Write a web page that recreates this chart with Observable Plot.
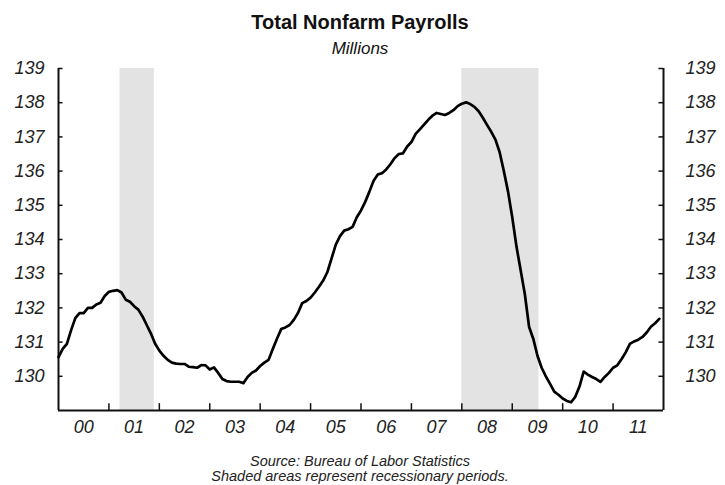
<!DOCTYPE html>
<html>
<head>
<meta charset="utf-8">
<script src="https://cdn.jsdelivr.net/npm/d3@7"></script>
<script src="https://cdn.jsdelivr.net/npm/@observablehq/plot@0.6"></script>
<style>
  html, body { margin: 0; padding: 0; background: #fff; }
  #wrap { width: 725px; font-family: "Liberation Sans", Arial, sans-serif; color: #111; }
  .hdr { position: relative; height: 58px; }
  .ftr { position: relative; height: 42px; }
  .t { position: absolute; left: 0; width: 720px; text-align: center; white-space: nowrap; }
  #title { top: 12px; font-size: 20px; line-height: 20px; font-weight: bold; }
  #sub { top: 40px; font-size: 17px; line-height: 17px; font-style: italic; }
  #src1 { top: 11px; font-size: 14.5px; line-height: 14.5px; font-style: italic; color: #222; }
  #src2 { top: 26px; font-size: 14.5px; line-height: 14.5px; font-style: italic; color: #222; }
  svg text { font-style: italic; }
  figure, svg { display: block; margin: 0; }
</style>
</head>
<body>
<div id="wrap">
  <div class="hdr">
    <div class="t" id="title">Total Nonfarm Payrolls</div>
    <div class="t" id="sub">Millions</div>
  </div>
  <div id="chart"></div>
  <div class="ftr">
    <div class="t" id="src1">Source: Bureau of Labor Statistics</div>
    <div class="t" id="src2">Shaded areas represent recessionary periods.</div>
  </div>
</div>
<script>
// Monthly total nonfarm payrolls (millions), Jan 2000 – Dec 2011
const startYear = 2000;
const payrolls = [
  // 2000
  130.56, 130.80, 130.95, 131.35, 131.70, 131.85, 131.85, 132.00, 132.00, 132.10, 132.15, 132.35,
  // 2001
  132.47, 132.50, 132.52, 132.45, 132.24, 132.18, 132.05, 131.95, 131.75, 131.50, 131.25, 130.95,
  // 2002
  130.75, 130.60, 130.48, 130.40, 130.37, 130.36, 130.36, 130.28, 130.27, 130.25, 130.33, 130.32,
  // 2003
  130.20, 130.26, 130.10, 129.92, 129.86, 129.84, 129.84, 129.84, 129.80, 129.98, 130.10, 130.17,
  // 2004
  130.30, 130.40, 130.48, 130.80, 131.10, 131.38, 131.43, 131.50, 131.65, 131.85, 132.14, 132.20,
  // 2005
  132.30, 132.45, 132.62, 132.80, 133.05, 133.45, 133.85, 134.10, 134.26, 134.30, 134.37, 134.65,
  // 2006
  134.85, 135.10, 135.40, 135.72, 135.90, 135.94, 136.05, 136.20, 136.38, 136.50, 136.52, 136.72,
  // 2007
  136.85, 137.09, 137.22, 137.36, 137.50, 137.62, 137.70, 137.67, 137.64, 137.70, 137.78, 137.90,
  // 2008
  137.97, 138.01, 137.96, 137.88, 137.75, 137.56, 137.35, 137.15, 136.92, 136.55, 136.00, 135.40,
  // 2009
  134.65, 133.80, 133.10, 132.40, 131.45, 131.10, 130.60, 130.25, 130.00, 129.78, 129.55, 129.46,
  // 2010
  129.35, 129.28, 129.24, 129.40, 129.70, 130.14, 130.05, 129.98, 129.92, 129.84, 129.98, 130.10,
  // 2011
  130.25, 130.32, 130.50, 130.70, 130.95, 131.02, 131.07, 131.15, 131.28, 131.45, 131.55, 131.68
];

// Recession periods (decimal years)
const recessionStart = [2001.22, 2008.0];
const recessionEnd   = [2001.90, 2009.53];

const yTicks = [130, 131, 132, 133, 134, 135, 136, 137, 138, 139];
const yDomain = [129, 139];
const xDomain = [2000, 2012];
const xLabels = ["00", "01", "02", "03", "04", "05", "06", "07", "08", "09", "10", "11"];
const yearBoundaries = [2001, 2002, 2003, 2004, 2005, 2006, 2007, 2008, 2009, 2010, 2011];

const series = payrolls.map((v, i) => ({ date: startYear + i / 12, value: v }));
const recessions = recessionStart.map((s, i) => ({ x1: s, x2: recessionEnd[i] }));
const labelPos = xLabels.map((_, i) => startYear + i + 0.5);

const chart = Plot.plot({
  width: 725,
  height: 385,
  marginLeft: 58,
  marginRight: 62,
  marginTop: 10,
  marginBottom: 33,
  style: { fontFamily: "'Liberation Sans', Arial, sans-serif", fontSize: "18px", color: "#222", background: "white" },
  x: { domain: xDomain },
  y: { domain: yDomain },
  marks: [
    Plot.rect(recessions, { x1: "x1", x2: "x2", y1: yDomain[0], y2: yDomain[1], fill: "#e3e3e3" }),
    // inner tick marks
    Plot.ruleY(yTicks, { x1: xDomain[0], x2: xDomain[0] + 0.09, stroke: "#111", strokeWidth: 1.5 }),
    Plot.ruleY(yTicks, { x1: xDomain[1] - 0.09, x2: xDomain[1], stroke: "#111", strokeWidth: 1.5 }),
    Plot.ruleX(yearBoundaries, { y1: yDomain[0], y2: yDomain[0] + 0.2, stroke: "#111", strokeWidth: 1.5 }),
    // frame: left, right, bottom
    Plot.ruleX(xDomain, { y1: yDomain[0], y2: yDomain[1], stroke: "#111", strokeWidth: 2 }),
    Plot.ruleY([yDomain[0]], { x1: xDomain[0], x2: xDomain[1], stroke: "#111", strokeWidth: 2.2 }),
    Plot.line(series, { x: "date", y: "value", stroke: "#000", strokeWidth: 2.7, strokeLinejoin: "round", curve: "linear" }),
    Plot.axisY(yTicks, { anchor: "left", tickSize: 0, tickPadding: 14, fontSize: 18, label: null }),
    Plot.axisY(yTicks, { anchor: "right", tickSize: 0, tickPadding: 22, fontSize: 18, label: null }),
    Plot.axisX(labelPos, { anchor: "bottom", tickSize: 0, tickPadding: 10, fontSize: 18, label: null,
      tickFormat: (d) => xLabels[Math.floor(d) - startYear] })
  ]
});
document.getElementById("chart").appendChild(chart);
</script>
</body>
</html>
